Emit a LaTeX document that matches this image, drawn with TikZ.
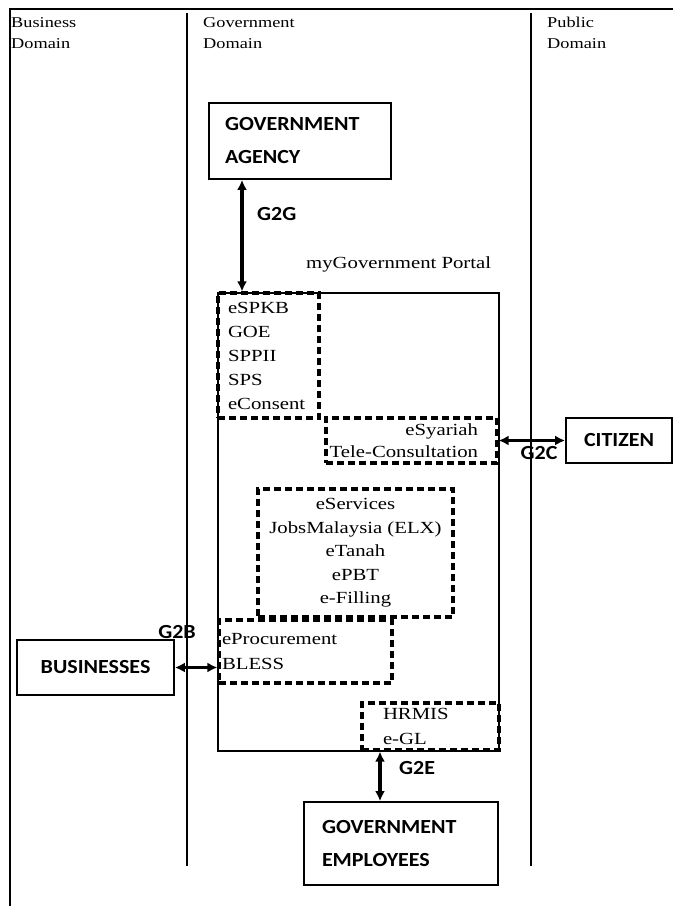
\documentclass[tikz,border=0pt]{standalone}
\usepackage{fontspec}
\setmainfont{Liberation Serif}[FakeStretch=1.22]
\newfontfamily\labelfont{Carlito}[FakeStretch=1.1]
\usetikzlibrary{arrows.meta,positioning,calc}

\begin{document}
\begin{tikzpicture}[
  x=1pt,
  y=-1pt,
  >={Latex[length=10pt,width=10pt]},
  link/.style={<->,line width=3.4pt},
  frameline/.style={line width=2.8pt},
  divider/.style={line width=1.8pt},
  entity/.style={draw,line width=1.8pt,inner sep=0pt,
    font=\labelfont\bfseries\fontsize{20}{33}\selectfont},
  service/.style={draw,line width=3.2pt,dash pattern=on 7pt off 4pt,
    inner sep=0pt,font=\fontsize{17}{24}\selectfont},
  portalbox/.style={draw,line width=1.8pt,inner sep=0pt},
  domainlabel/.style={anchor=north west,align=left,inner sep=0pt,
    font=\fontsize{15}{21}\selectfont},
  channel/.style={inner sep=0pt,font=\labelfont\bfseries\fontsize{20}{24}\selectfont}
]
\useasboundingbox (0,0) rectangle (673,906);

% frame and domain columns
\draw[frameline] (10,906) -- (10,9) -- (673,9);
\draw[divider] (187,13) -- (187,866);
\draw[divider] (531,13) -- (531,866);

\node[domainlabel] (business) at (11,17) {Business\\Domain};
\node[domainlabel] (government) at (203,17) {Government\\Domain};
\node[domainlabel] (public) at (547,17) {Public\\Domain};

% actors
\node[entity,align=left,text width=150pt,inner xsep=16pt,minimum height=76pt]
  (agency) at (300,141) {GOVERNMENT\\AGENCY};
\node[entity,minimum width=157pt,minimum height=55pt]
  (businesses) at (95.5,667.5) {BUSINESSES};
\node[entity,minimum width=106pt,minimum height=45pt]
  (citizen) at (619,440.5) {CITIZEN};
\node[entity,align=left,text width=158pt,inner xsep=18pt,minimum height=83pt]
  (employees) at (401,843.5) {GOVERNMENT\\EMPLOYEES};

% portal and its services
\node[anchor=west,inner sep=0pt,font=\fontsize{17}{24}\selectfont]
  (portaltitle) at (306,264) {myGovernment Portal};
\node[portalbox,minimum width=281pt,minimum height=458pt] (portal) at (358.5,522) {};

\node[service,align=left,text width=81pt,inner xsep=10pt,minimum height=125pt]
  (espkb) at (268.5,355.5) {eSPKB\\GOE\\SPPII\\SPS\\eConsent};
\node[service,align=right,text width=167pt,minimum width=171pt,minimum height=45pt,
  font=\fontsize{17}{22}\selectfont]
  (syariah) at (411.5,440.5)
  {\mbox{eSyariah\kern17pt}\\\mbox{Tele-Consultation\kern17pt}};
\node[service,align=center,minimum width=195pt,minimum height=128pt,
  font=\fontsize{17}{23.5}\selectfont]
  (eservices) at (355.5,553) {eServices\\JobsMalaysia (ELX)\\eTanah\\ePBT\\e-Filling};
\node[service,align=left,text width=167pt,inner xsep=3pt,minimum height=63pt,
  font=\fontsize{17}{25}\selectfont]
  (epro) at (305.5,651.5) {eProcurement\\BLESS};
\node[service,align=left,text width=95pt,inner xsep=21pt,minimum height=47pt,
  font=\fontsize{17}{25}\selectfont]
  (hrmis) at (430.5,726.5) {HRMIS\\e-GL};

% channels
\coordinate (g2gx) at (242,0);
\coordinate (g2ex) at (380,0);
\draw[link] (agency.south -| g2gx) -- (espkb.north -| g2gx);
\draw[link] (syariah.east) -- (citizen.west);
\draw[link] (businesses.east) -- (businesses.east -| epro.west);
\draw[link] (hrmis.south -| g2ex) -- (employees.north -| g2ex);

\node[channel,anchor=west] (g2g) at (257,214) {G2G};
\node[channel] (g2c) at (539,453) {G2C};
\node[channel] (g2b) at (177,632) {G2B};
\node[channel,anchor=west] (g2e) at (399,768) {G2E};

\end{tikzpicture}
\end{document}
